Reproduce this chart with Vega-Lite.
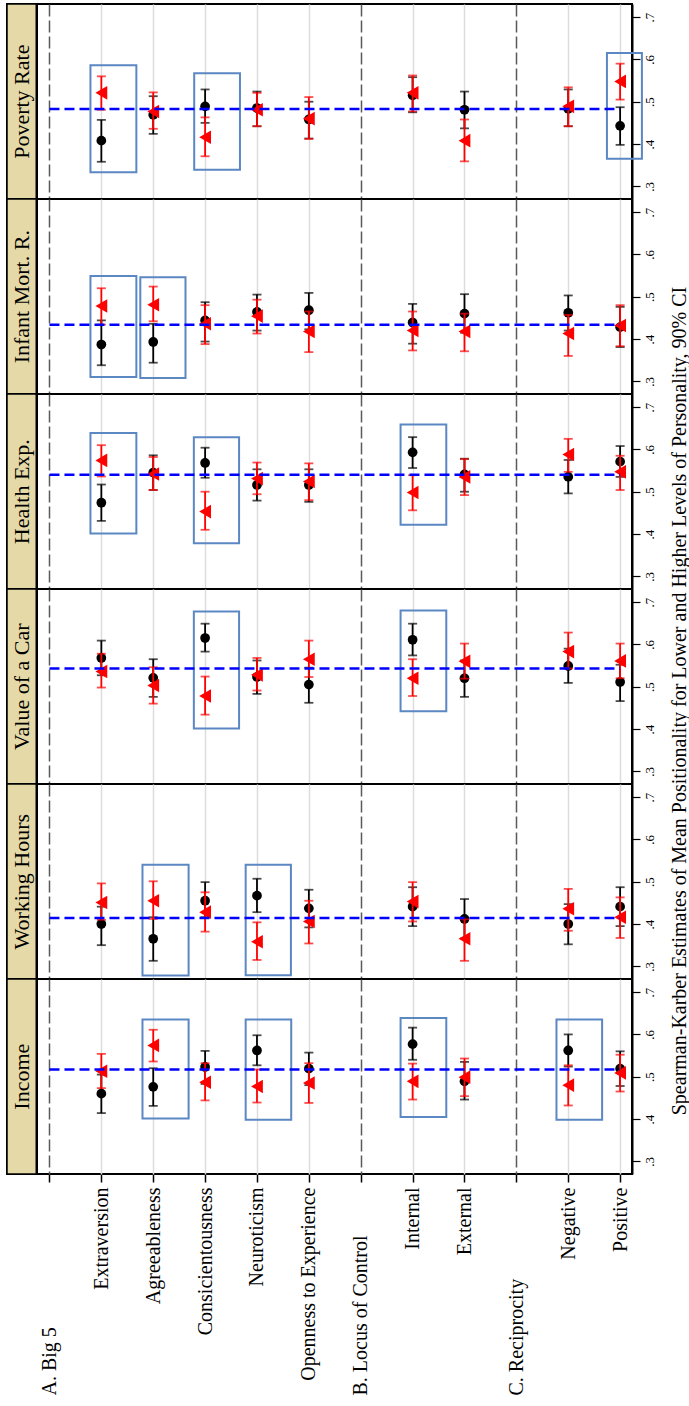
{
  "$schema": "https://vega.github.io/schema/vega-lite/v6.json",
  "padding": {"left": 5, "top": 1, "right": 0, "bottom": 0},
  "background": "white",
  "bounds": "flush",
  "title": {
    "text": "Spearman-Karber Estimates of Mean Positionality for Lower and Higher Levels of Personality, 90% CI",
    "orient": "right",
    "angle": 270,
    "baseline": "top",
    "anchor": "start",
    "align": "right",
    "dx": -285,
    "dy": -10,
    "font": "Liberation Serif",
    "fontSize": 20,
    "fontWeight": "normal",
    "color": "black",
    "offset": 4
  },
  "data": {
    "values": [
      {"kind": "ref", "panel": "Poverty Rate", "ref": 0.483},
      {"kind": "ref", "panel": "Infant Mort. R.", "ref": 0.434},
      {"kind": "ref", "panel": "Health Exp.", "ref": 0.540},
      {"kind": "ref", "panel": "Value of a Car", "ref": 0.543},
      {"kind": "ref", "panel": "Working Hours", "ref": 0.414},
      {"kind": "ref", "panel": "Income", "ref": 0.517},

      {"kind": "box", "panel": "Poverty Rate", "x1": 0.79, "x2": 1.675, "y1": 0.333, "y2": 0.586},
      {"kind": "box", "panel": "Poverty Rate", "x1": 2.79, "x2": 3.672, "y1": 0.339, "y2": 0.567},
      {"kind": "box", "panel": "Poverty Rate", "x1": 10.746, "x2": 11.42, "y1": 0.365, "y2": 0.615},
      {"kind": "box", "panel": "Infant Mort. R.", "x1": 0.79, "x2": 1.675, "y1": 0.310, "y2": 0.549},
      {"kind": "box", "panel": "Infant Mort. R.", "x1": 1.751, "x2": 2.622, "y1": 0.308, "y2": 0.546},
      {"kind": "box", "panel": "Health Exp.", "x1": 0.79, "x2": 1.675, "y1": 0.401, "y2": 0.639},
      {"kind": "box", "panel": "Health Exp.", "x1": 2.783, "x2": 3.655, "y1": 0.378, "y2": 0.629},
      {"kind": "box", "panel": "Health Exp.", "x1": 6.768, "x2": 7.649, "y1": 0.422, "y2": 0.659},
      {"kind": "box", "panel": "Value of a Car", "x1": 2.783, "x2": 3.655, "y1": 0.401, "y2": 0.678},
      {"kind": "box", "panel": "Value of a Car", "x1": 6.768, "x2": 7.649, "y1": 0.442, "y2": 0.680},
      {"kind": "box", "panel": "Working Hours", "x1": 1.793, "x2": 2.682, "y1": 0.278, "y2": 0.540},
      {"kind": "box", "panel": "Working Hours", "x1": 3.782, "x2": 4.654, "y1": 0.279, "y2": 0.540},
      {"kind": "box", "panel": "Income", "x1": 1.793, "x2": 2.682, "y1": 0.401, "y2": 0.635},
      {"kind": "box", "panel": "Income", "x1": 3.782, "x2": 4.66, "y1": 0.398, "y2": 0.635},
      {"kind": "box", "panel": "Income", "x1": 6.768, "x2": 7.649, "y1": 0.405, "y2": 0.639},
      {"kind": "box", "panel": "Income", "x1": 9.773, "x2": 10.653, "y1": 0.398, "y2": 0.635},

      {"kind": "est", "panel": "Poverty Rate", "pos": 1, "series": "Lower", "est": 0.408, "lo": 0.358, "hi": 0.457},
      {"kind": "est", "panel": "Poverty Rate", "pos": 2, "series": "Lower", "est": 0.469, "lo": 0.424, "hi": 0.513},
      {"kind": "est", "panel": "Poverty Rate", "pos": 3, "series": "Lower", "est": 0.489, "lo": 0.450, "hi": 0.529},
      {"kind": "est", "panel": "Poverty Rate", "pos": 4, "series": "Lower", "est": 0.485, "lo": 0.442, "hi": 0.524},
      {"kind": "est", "panel": "Poverty Rate", "pos": 5, "series": "Lower", "est": 0.458, "lo": 0.413, "hi": 0.500},
      {"kind": "est", "panel": "Poverty Rate", "pos": 7, "series": "Lower", "est": 0.515, "lo": 0.475, "hi": 0.558},
      {"kind": "est", "panel": "Poverty Rate", "pos": 8, "series": "Lower", "est": 0.481, "lo": 0.437, "hi": 0.524},
      {"kind": "est", "panel": "Poverty Rate", "pos": 10, "series": "Lower", "est": 0.483, "lo": 0.442, "hi": 0.529},
      {"kind": "est", "panel": "Poverty Rate", "pos": 11, "series": "Lower", "est": 0.443, "lo": 0.398, "hi": 0.487},
      {"kind": "est", "panel": "Poverty Rate", "pos": 1, "series": "Higher", "est": 0.521, "lo": 0.481, "hi": 0.560},
      {"kind": "est", "panel": "Poverty Rate", "pos": 2, "series": "Higher", "est": 0.477, "lo": 0.436, "hi": 0.522},
      {"kind": "est", "panel": "Poverty Rate", "pos": 3, "series": "Higher", "est": 0.416, "lo": 0.371, "hi": 0.463},
      {"kind": "est", "panel": "Poverty Rate", "pos": 4, "series": "Higher", "est": 0.481, "lo": 0.442, "hi": 0.521},
      {"kind": "est", "panel": "Poverty Rate", "pos": 5, "series": "Higher", "est": 0.460, "lo": 0.412, "hi": 0.511},
      {"kind": "est", "panel": "Poverty Rate", "pos": 7, "series": "Higher", "est": 0.521, "lo": 0.477, "hi": 0.562},
      {"kind": "est", "panel": "Poverty Rate", "pos": 8, "series": "Higher", "est": 0.408, "lo": 0.359, "hi": 0.458},
      {"kind": "est", "panel": "Poverty Rate", "pos": 10, "series": "Higher", "est": 0.489, "lo": 0.442, "hi": 0.534},
      {"kind": "est", "panel": "Poverty Rate", "pos": 11, "series": "Higher", "est": 0.548, "lo": 0.505, "hi": 0.590},

      {"kind": "est", "panel": "Infant Mort. R.", "pos": 1, "series": "Lower", "est": 0.387, "lo": 0.338, "hi": 0.444},
      {"kind": "est", "panel": "Infant Mort. R.", "pos": 2, "series": "Lower", "est": 0.393, "lo": 0.344, "hi": 0.436},
      {"kind": "est", "panel": "Infant Mort. R.", "pos": 3, "series": "Lower", "est": 0.444, "lo": 0.394, "hi": 0.487},
      {"kind": "est", "panel": "Infant Mort. R.", "pos": 4, "series": "Lower", "est": 0.464, "lo": 0.420, "hi": 0.505},
      {"kind": "est", "panel": "Infant Mort. R.", "pos": 5, "series": "Lower", "est": 0.468, "lo": 0.423, "hi": 0.509},
      {"kind": "est", "panel": "Infant Mort. R.", "pos": 7, "series": "Lower", "est": 0.439, "lo": 0.389, "hi": 0.483},
      {"kind": "est", "panel": "Infant Mort. R.", "pos": 8, "series": "Lower", "est": 0.460, "lo": 0.415, "hi": 0.506},
      {"kind": "est", "panel": "Infant Mort. R.", "pos": 10, "series": "Lower", "est": 0.462, "lo": 0.420, "hi": 0.503},
      {"kind": "est", "panel": "Infant Mort. R.", "pos": 11, "series": "Lower", "est": 0.428, "lo": 0.381, "hi": 0.476},
      {"kind": "est", "panel": "Infant Mort. R.", "pos": 1, "series": "Higher", "est": 0.478, "lo": 0.434, "hi": 0.520},
      {"kind": "est", "panel": "Infant Mort. R.", "pos": 2, "series": "Higher", "est": 0.481, "lo": 0.442, "hi": 0.524},
      {"kind": "est", "panel": "Infant Mort. R.", "pos": 3, "series": "Higher", "est": 0.436, "lo": 0.388, "hi": 0.480},
      {"kind": "est", "panel": "Infant Mort. R.", "pos": 4, "series": "Higher", "est": 0.454, "lo": 0.413, "hi": 0.493},
      {"kind": "est", "panel": "Infant Mort. R.", "pos": 5, "series": "Higher", "est": 0.418, "lo": 0.369, "hi": 0.465},
      {"kind": "est", "panel": "Infant Mort. R.", "pos": 7, "series": "Higher", "est": 0.420, "lo": 0.373, "hi": 0.465},
      {"kind": "est", "panel": "Infant Mort. R.", "pos": 8, "series": "Higher", "est": 0.418, "lo": 0.371, "hi": 0.460},
      {"kind": "est", "panel": "Infant Mort. R.", "pos": 10, "series": "Higher", "est": 0.413, "lo": 0.360, "hi": 0.457},
      {"kind": "est", "panel": "Infant Mort. R.", "pos": 11, "series": "Higher", "est": 0.432, "lo": 0.383, "hi": 0.480},

      {"kind": "est", "panel": "Health Exp.", "pos": 1, "series": "Lower", "est": 0.474, "lo": 0.431, "hi": 0.517},
      {"kind": "est", "panel": "Health Exp.", "pos": 2, "series": "Lower", "est": 0.545, "lo": 0.504, "hi": 0.586},
      {"kind": "est", "panel": "Health Exp.", "pos": 3, "series": "Lower", "est": 0.568, "lo": 0.533, "hi": 0.604},
      {"kind": "est", "panel": "Health Exp.", "pos": 4, "series": "Lower", "est": 0.516, "lo": 0.479, "hi": 0.553},
      {"kind": "est", "panel": "Health Exp.", "pos": 5, "series": "Lower", "est": 0.516, "lo": 0.476, "hi": 0.553},
      {"kind": "est", "panel": "Health Exp.", "pos": 7, "series": "Lower", "est": 0.593, "lo": 0.556, "hi": 0.629},
      {"kind": "est", "panel": "Health Exp.", "pos": 8, "series": "Lower", "est": 0.541, "lo": 0.500, "hi": 0.578},
      {"kind": "est", "panel": "Health Exp.", "pos": 10, "series": "Lower", "est": 0.535, "lo": 0.496, "hi": 0.575},
      {"kind": "est", "panel": "Health Exp.", "pos": 11, "series": "Lower", "est": 0.571, "lo": 0.535, "hi": 0.608},
      {"kind": "est", "panel": "Health Exp.", "pos": 1, "series": "Higher", "est": 0.574, "lo": 0.536, "hi": 0.610},
      {"kind": "est", "panel": "Health Exp.", "pos": 2, "series": "Higher", "est": 0.542, "lo": 0.504, "hi": 0.582},
      {"kind": "est", "panel": "Health Exp.", "pos": 3, "series": "Higher", "est": 0.453, "lo": 0.410, "hi": 0.500},
      {"kind": "est", "panel": "Health Exp.", "pos": 4, "series": "Higher", "est": 0.531, "lo": 0.494, "hi": 0.569},
      {"kind": "est", "panel": "Health Exp.", "pos": 5, "series": "Higher", "est": 0.524, "lo": 0.480, "hi": 0.567},
      {"kind": "est", "panel": "Health Exp.", "pos": 7, "series": "Higher", "est": 0.498, "lo": 0.456, "hi": 0.539},
      {"kind": "est", "panel": "Health Exp.", "pos": 8, "series": "Higher", "est": 0.535, "lo": 0.492, "hi": 0.577},
      {"kind": "est", "panel": "Health Exp.", "pos": 10, "series": "Higher", "est": 0.588, "lo": 0.547, "hi": 0.625},
      {"kind": "est", "panel": "Health Exp.", "pos": 11, "series": "Higher", "est": 0.547, "lo": 0.504, "hi": 0.585},

      {"kind": "est", "panel": "Value of a Car", "pos": 1, "series": "Lower", "est": 0.568, "lo": 0.527, "hi": 0.609},
      {"kind": "est", "panel": "Value of a Car", "pos": 2, "series": "Lower", "est": 0.521, "lo": 0.476, "hi": 0.565},
      {"kind": "est", "panel": "Value of a Car", "pos": 3, "series": "Lower", "est": 0.615, "lo": 0.583, "hi": 0.649},
      {"kind": "est", "panel": "Value of a Car", "pos": 4, "series": "Lower", "est": 0.523, "lo": 0.483, "hi": 0.562},
      {"kind": "est", "panel": "Value of a Car", "pos": 5, "series": "Lower", "est": 0.505, "lo": 0.462, "hi": 0.545},
      {"kind": "est", "panel": "Value of a Car", "pos": 7, "series": "Lower", "est": 0.611, "lo": 0.574, "hi": 0.649},
      {"kind": "est", "panel": "Value of a Car", "pos": 8, "series": "Lower", "est": 0.520, "lo": 0.476, "hi": 0.562},
      {"kind": "est", "panel": "Value of a Car", "pos": 10, "series": "Lower", "est": 0.549, "lo": 0.509, "hi": 0.590},
      {"kind": "est", "panel": "Value of a Car", "pos": 11, "series": "Lower", "est": 0.511, "lo": 0.466, "hi": 0.552},
      {"kind": "est", "panel": "Value of a Car", "pos": 1, "series": "Higher", "est": 0.536, "lo": 0.498, "hi": 0.578},
      {"kind": "est", "panel": "Value of a Car", "pos": 2, "series": "Higher", "est": 0.503, "lo": 0.460, "hi": 0.546},
      {"kind": "est", "panel": "Value of a Car", "pos": 3, "series": "Higher", "est": 0.478, "lo": 0.434, "hi": 0.524},
      {"kind": "est", "panel": "Value of a Car", "pos": 4, "series": "Higher", "est": 0.528, "lo": 0.491, "hi": 0.568},
      {"kind": "est", "panel": "Value of a Car", "pos": 5, "series": "Higher", "est": 0.565, "lo": 0.523, "hi": 0.609},
      {"kind": "est", "panel": "Value of a Car", "pos": 7, "series": "Higher", "est": 0.520, "lo": 0.478, "hi": 0.565},
      {"kind": "est", "panel": "Value of a Car", "pos": 8, "series": "Higher", "est": 0.560, "lo": 0.519, "hi": 0.602},
      {"kind": "est", "panel": "Value of a Car", "pos": 10, "series": "Higher", "est": 0.583, "lo": 0.543, "hi": 0.628},
      {"kind": "est", "panel": "Value of a Car", "pos": 11, "series": "Higher", "est": 0.561, "lo": 0.520, "hi": 0.602},

      {"kind": "est", "panel": "Working Hours", "pos": 1, "series": "Lower", "est": 0.400, "lo": 0.350, "hi": 0.441},
      {"kind": "est", "panel": "Working Hours", "pos": 2, "series": "Lower", "est": 0.365, "lo": 0.313, "hi": 0.416},
      {"kind": "est", "panel": "Working Hours", "pos": 3, "series": "Lower", "est": 0.455, "lo": 0.416, "hi": 0.499},
      {"kind": "est", "panel": "Working Hours", "pos": 4, "series": "Lower", "est": 0.467, "lo": 0.428, "hi": 0.507},
      {"kind": "est", "panel": "Working Hours", "pos": 5, "series": "Lower", "est": 0.437, "lo": 0.392, "hi": 0.481},
      {"kind": "est", "panel": "Working Hours", "pos": 7, "series": "Lower", "est": 0.441, "lo": 0.395, "hi": 0.487},
      {"kind": "est", "panel": "Working Hours", "pos": 8, "series": "Lower", "est": 0.412, "lo": 0.366, "hi": 0.459},
      {"kind": "est", "panel": "Working Hours", "pos": 10, "series": "Lower", "est": 0.400, "lo": 0.352, "hi": 0.447},
      {"kind": "est", "panel": "Working Hours", "pos": 11, "series": "Lower", "est": 0.441, "lo": 0.395, "hi": 0.487},
      {"kind": "est", "panel": "Working Hours", "pos": 1, "series": "Higher", "est": 0.451, "lo": 0.410, "hi": 0.496},
      {"kind": "est", "panel": "Working Hours", "pos": 2, "series": "Higher", "est": 0.455, "lo": 0.412, "hi": 0.501},
      {"kind": "est", "panel": "Working Hours", "pos": 3, "series": "Higher", "est": 0.428, "lo": 0.382, "hi": 0.475},
      {"kind": "est", "panel": "Working Hours", "pos": 4, "series": "Higher", "est": 0.358, "lo": 0.315, "hi": 0.404},
      {"kind": "est", "panel": "Working Hours", "pos": 5, "series": "Higher", "est": 0.406, "lo": 0.354, "hi": 0.455},
      {"kind": "est", "panel": "Working Hours", "pos": 7, "series": "Higher", "est": 0.453, "lo": 0.406, "hi": 0.499},
      {"kind": "est", "panel": "Working Hours", "pos": 8, "series": "Higher", "est": 0.365, "lo": 0.313, "hi": 0.411},
      {"kind": "est", "panel": "Working Hours", "pos": 10, "series": "Higher", "est": 0.436, "lo": 0.384, "hi": 0.483},
      {"kind": "est", "panel": "Working Hours", "pos": 11, "series": "Higher", "est": 0.416, "lo": 0.367, "hi": 0.463},

      {"kind": "est", "panel": "Income", "pos": 1, "series": "Lower", "est": 0.460, "lo": 0.414, "hi": 0.505},
      {"kind": "est", "panel": "Income", "pos": 2, "series": "Lower", "est": 0.476, "lo": 0.431, "hi": 0.520},
      {"kind": "est", "panel": "Income", "pos": 3, "series": "Lower", "est": 0.523, "lo": 0.483, "hi": 0.561},
      {"kind": "est", "panel": "Income", "pos": 4, "series": "Lower", "est": 0.562, "lo": 0.527, "hi": 0.598},
      {"kind": "est", "panel": "Income", "pos": 5, "series": "Lower", "est": 0.519, "lo": 0.480, "hi": 0.557},
      {"kind": "est", "panel": "Income", "pos": 7, "series": "Lower", "est": 0.577, "lo": 0.540, "hi": 0.616},
      {"kind": "est", "panel": "Income", "pos": 8, "series": "Lower", "est": 0.489, "lo": 0.446, "hi": 0.535},
      {"kind": "est", "panel": "Income", "pos": 10, "series": "Lower", "est": 0.562, "lo": 0.524, "hi": 0.600},
      {"kind": "est", "panel": "Income", "pos": 11, "series": "Lower", "est": 0.519, "lo": 0.478, "hi": 0.560},
      {"kind": "est", "panel": "Income", "pos": 1, "series": "Higher", "est": 0.513, "lo": 0.473, "hi": 0.554},
      {"kind": "est", "panel": "Income", "pos": 2, "series": "Higher", "est": 0.574, "lo": 0.536, "hi": 0.611},
      {"kind": "est", "panel": "Income", "pos": 3, "series": "Higher", "est": 0.487, "lo": 0.444, "hi": 0.532},
      {"kind": "est", "panel": "Income", "pos": 4, "series": "Higher", "est": 0.477, "lo": 0.439, "hi": 0.517},
      {"kind": "est", "panel": "Income", "pos": 5, "series": "Higher", "est": 0.485, "lo": 0.438, "hi": 0.532},
      {"kind": "est", "panel": "Income", "pos": 7, "series": "Higher", "est": 0.489, "lo": 0.446, "hi": 0.531},
      {"kind": "est", "panel": "Income", "pos": 8, "series": "Higher", "est": 0.499, "lo": 0.454, "hi": 0.543},
      {"kind": "est", "panel": "Income", "pos": 10, "series": "Higher", "est": 0.480, "lo": 0.432, "hi": 0.527},
      {"kind": "est", "panel": "Income", "pos": 11, "series": "Higher", "est": 0.509, "lo": 0.465, "hi": 0.552}
    ]
  },
  "facet": {
    "row": {
      "field": "panel",
      "type": "nominal",
      "sort": ["Poverty Rate", "Infant Mort. R.", "Health Exp.", "Value of a Car", "Working Hours", "Income"],
      "header": null
    }
  },
  "spacing": 0,
  "spec": {
    "width": 625,
    "height": 195,
    "layer": [
      {
        "transform": [{"filter": "datum.kind === 'ref'"}],
        "mark": {"type": "rect", "fill": "#E6D9A8", "stroke": "black", "strokeWidth": 1.5},
        "encoding": {
          "x": {"datum": -0.8186, "type": "quantitative", "title": null},
          "x2": {"datum": -0.245},
          "y": {"datum": 0.270, "type": "quantitative", "title": null},
          "y2": {"datum": 0.731}
        }
      },
      {
        "transform": [{"filter": "datum.kind === 'ref'"}],
        "mark": {"type": "text", "angle": 270, "align": "center", "baseline": "middle", "font": "Liberation Serif", "fontSize": 22, "color": "black"},
        "encoding": {
          "x": {"datum": -0.53, "type": "quantitative", "title": null},
          "y": {"datum": 0.5, "type": "quantitative", "title": null},
          "text": {"field": "panel", "type": "nominal"}
        }
      },
      {
        "transform": [{"filter": "datum.kind === 'ref'"}],
        "mark": {"type": "rule", "color": "black", "strokeWidth": 2.5},
        "encoding": {
          "x": {"datum": -0.245, "type": "quantitative", "title": null}
        }
      },
      {
        "transform": [{"filter": "datum.kind === 'box'"}],
        "mark": {"type": "rect", "fill": "white", "fillOpacity": 0, "stroke": "#5B87C3", "strokeWidth": 2},
        "encoding": {
          "x": {"field": "x1", "type": "quantitative", "title": null},
          "x2": {"field": "x2"},
          "y": {"field": "y1", "type": "quantitative", "title": null},
          "y2": {"field": "y2"}
        }
      },
      {
        "transform": [{"filter": "datum.kind === 'est' && datum.series === 'Lower'"}],
        "mark": {"type": "rule", "color": "black", "strokeWidth": 1.8},
        "encoding": {
          "x": {
            "field": "pos", "type": "quantitative", "title": null,
            "scale": {"domain": [-0.8186, 11.229], "nice": false, "zero": false},
            "axis": {
              "values": [0, 1, 2, 3, 4, 5, 6, 7, 8, 9, 10, 11],
              "labelExpr": "['A. Big 5','Extraversion','Agreeableness','Consicientousness','Neuroticism','Openness to Experience','B. Locus of Control','Internal','External','C. Reciprocity','Negative','Positive'][datum.value]",
              "labelAngle": 270,
              "labelAlign": {"condition": {"test": "indexof([0,6,9], datum.value) >= 0", "value": "left"}, "value": "right"},
              "labelBaseline": "middle",
              "labelPadding": {"condition": {"test": "indexof([0,6,9], datum.value) >= 0", "value": 213}, "value": 5},
              "labelFont": "Liberation Serif",
              "labelFontSize": 20,
              "labelColor": "black",
              "labelOverlap": false,
              "labelFlush": false,
              "labelBound": false,
              "labelLimit": 400,
              "ticks": true,
              "tickSize": 8,
              "tickColor": "black",
              "tickWidth": 1.5,
              "domain": false,
              "grid": true,
              "gridColor": {"condition": {"test": "indexof([0,6,9], datum.value) >= 0", "value": "#5a5a5a"}, "value": "#dcdcdc"},
              "gridDash": {"condition": {"test": "indexof([0,6,9], datum.value) >= 0", "value": [12, 4]}, "value": []},
              "gridWidth": 1.5
            }
          },
          "y": {
            "field": "lo", "type": "quantitative", "title": null,
            "scale": {"domain": [0.270, 0.731], "nice": false, "zero": false},
            "axis": {
              "orient": "right",
              "values": [0.3, 0.4, 0.5, 0.6, 0.7],
              "labelExpr": "replace(format(datum.value, '.1f'), '0.', '.')",
              "labelAngle": 270,
              "labelAlign": "center",
              "labelBaseline": "top",
              "labelFont": "Liberation Serif",
              "labelFontSize": 13,
              "labelColor": "black",
              "labelPadding": 3,
              "tickSize": 8,
              "tickColor": "black",
              "tickWidth": 1.2,
              "domain": true,
              "domainColor": "black",
              "domainWidth": 2,
              "grid": false
            }
          },
          "y2": {"field": "hi"}
        }
      },
      {
        "transform": [{"filter": "datum.kind === 'est' && datum.series === 'Lower'"}, {"fold": ["lo", "hi"], "as": ["end", "bound"]}],
        "mark": {"type": "tick", "orient": "horizontal", "color": "black", "size": 9, "thickness": 1.8},
        "encoding": {
          "x": {"field": "pos", "type": "quantitative", "title": null},
          "y": {"field": "bound", "type": "quantitative", "title": null}
        }
      },
      {
        "transform": [{"filter": "datum.kind === 'est' && datum.series === 'Lower'"}],
        "mark": {"type": "point", "shape": "circle", "filled": true, "color": "black", "size": 95, "opacity": 1},
        "encoding": {
          "x": {"field": "pos", "type": "quantitative", "title": null},
          "y": {"field": "est", "type": "quantitative", "title": null}
        }
      },
      {
        "transform": [{"filter": "datum.kind === 'est' && datum.series === 'Higher'"}],
        "mark": {"type": "rule", "color": "#ff0000", "strokeWidth": 1.8},
        "encoding": {
          "x": {"field": "pos", "type": "quantitative", "title": null},
          "y": {"field": "lo", "type": "quantitative", "title": null},
          "y2": {"field": "hi"}
        }
      },
      {
        "transform": [{"filter": "datum.kind === 'est' && datum.series === 'Higher'"}, {"fold": ["lo", "hi"], "as": ["end", "bound"]}],
        "mark": {"type": "tick", "orient": "horizontal", "color": "#ff0000", "size": 9, "thickness": 1.8},
        "encoding": {
          "x": {"field": "pos", "type": "quantitative", "title": null},
          "y": {"field": "bound", "type": "quantitative", "title": null}
        }
      },
      {
        "transform": [{"filter": "datum.kind === 'est' && datum.series === 'Higher'"}],
        "mark": {"type": "point", "shape": "triangle-left", "filled": true, "color": "#ff0000", "size": 185, "opacity": 1},
        "encoding": {
          "x": {"field": "pos", "type": "quantitative", "title": null},
          "y": {"field": "est", "type": "quantitative", "title": null}
        }
      },
      {
        "transform": [{"filter": "datum.kind === 'ref'"}],
        "mark": {"type": "rule", "color": "#0000ff", "strokeWidth": 2.5, "strokeDash": [10, 5]},
        "encoding": {
          "x": {"datum": 0, "type": "quantitative", "title": null},
          "x2": {"datum": 11},
          "y": {"field": "ref", "type": "quantitative", "title": null}
        }
      }
    ]
  },
  "config": {
    "font": "Liberation Serif",
    "view": {"stroke": "black", "strokeWidth": 2},
    "axis": {"titleFont": "Liberation Serif"}
  }
}
